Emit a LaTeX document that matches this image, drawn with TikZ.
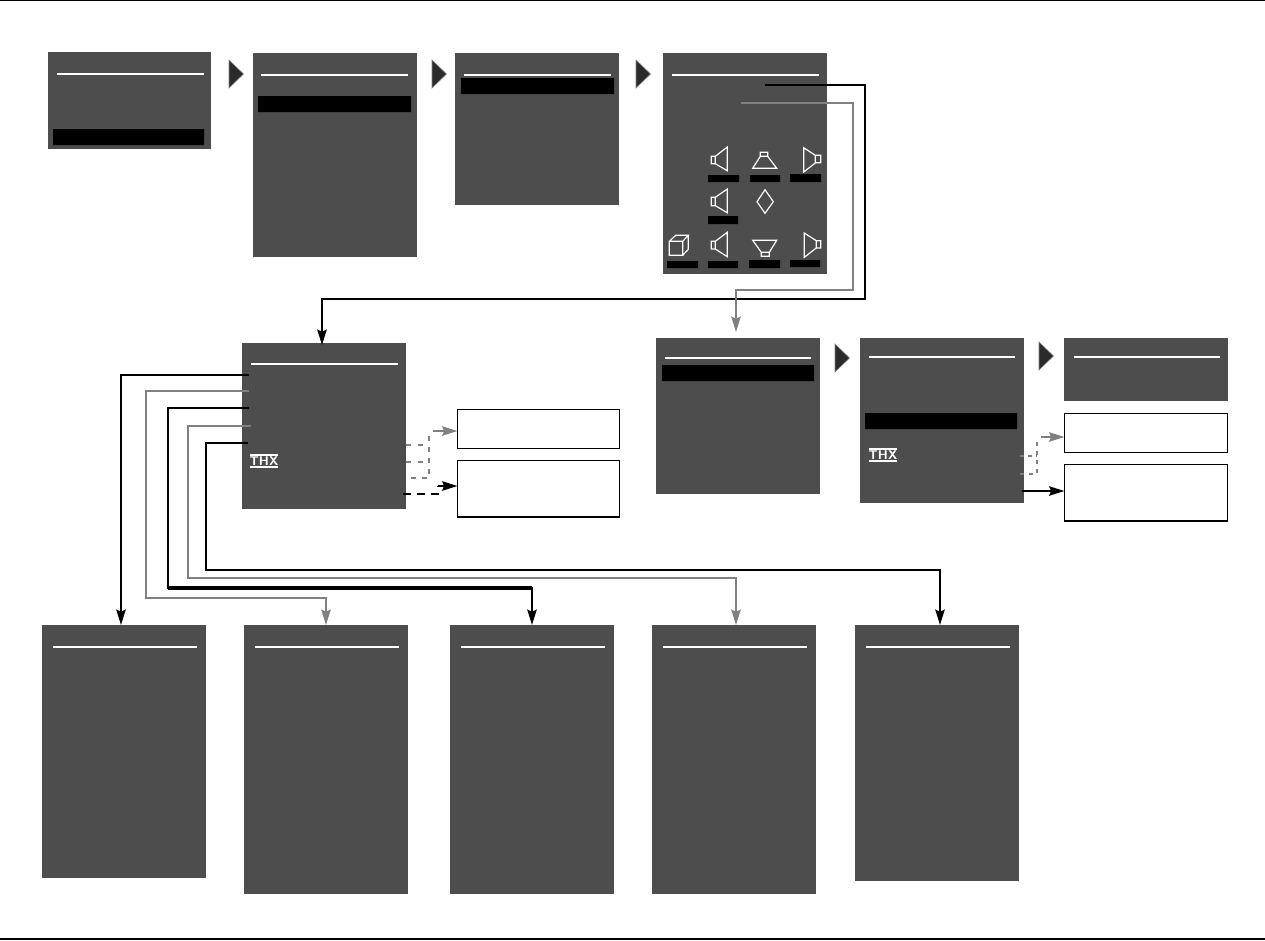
\documentclass[tikz,border=0pt]{standalone}
\usepackage{fontspec}
\setmainfont{Liberation Sans}
\usetikzlibrary{arrows.meta}
\definecolor{panelgray}{HTML}{4D4D4D}
\definecolor{wiregray}{HTML}{808080}
\definecolor{pointer}{HTML}{2B2B2B}
\tikzset{
 panel/.style={fill=panelgray,draw=none,inner sep=0pt,outer sep=0pt,anchor=north west},
 notebox/.style={fill=white,draw=black,line width=1.1pt,inner sep=0pt,outer sep=0pt,anchor=north west},
 titlerule/.style={draw=white,line width=1.5pt},
 selbar/.style={fill=black,draw=none},
 icon/.style={draw=white,line width=.9pt,line join=miter},
 wblack/.style={draw=black,line width=1.5pt},
 wgray/.style={draw=wiregray,line width=1.5pt},
 tipb/.style={-{Stealth[length=11.5pt,width=7pt,inset=1.5pt]}},
 nextmark/.style={fill=pointer,draw=pointer!60!white,line width=.4pt}
}
\newcommand{\panelbox}[5]{\node[panel,minimum width=#4*.75pt,minimum height=#5*.75pt] (#1) at (#2,#3) {};}
\newcommand{\notebx}[5]{\node[notebox,minimum width=#4*.75pt,minimum height=#5*.75pt] (#1) at (#2,#3) {};}
\newcommand{\nextarrow}[2]{\path[nextmark] (#1,#2) -- ++(14.5,14) -- ++(-14.5,14) -- cycle;}
\newcommand{\thxlogo}[3]{\node[inner sep=0pt,outer sep=0pt,minimum width=19.5pt,minimum height=9pt,fill=panelgray,text=white,font=\sffamily\bfseries\fontsize{9.5}{9.5}\selectfont] (#1) at (#2,#3) {THX};
 \draw[white,line width=.9pt] (#1.north west) -- (#1.north east) (#1.south west) -- (#1.south east);}
\begin{document}
\begin{tikzpicture}[x=.75pt,y=-.75pt]
\useasboundingbox (0,0) rectangle (1265,940);
\coordinate (tl) at (0,0.5); \coordinate (tr) at (1265,0.5);
\coordinate (bl) at (0,939); \coordinate (br) at (1265,939);
\draw[black,line width=.9pt] (tl) -- (tr) (bl) -- (br);
% panels
\panelbox{pa}{48}{52}{163}{97}
\panelbox{pb}{253}{53}{164}{204}
\panelbox{pc}{455}{53}{164}{152}
\panelbox{pd}{663}{53}{164}{221}
\panelbox{pe}{242}{343}{164}{166}
\panelbox{pf}{656}{338}{164}{156}
\panelbox{pg}{860}{338}{164}{165}
\panelbox{ph}{1064}{338}{164}{63}
\panelbox{q1}{42}{625}{164}{253}
\panelbox{q2}{244}{625}{164}{269}
\panelbox{q3}{450}{625}{164}{269}
\panelbox{q4}{652}{625}{164}{269}
\panelbox{q5}{855}{625}{164}{256}
\notebx{ni}{457.5}{409.5}{162}{39}
\notebx{nj}{457.5}{460.5}{162}{56.5}
\notebx{nk}{1064.5}{413.5}{163}{39}
\notebx{nl}{1064.5}{464.5}{163}{56.5}
% title rules
\draw[titlerule] (57,73.5)--(204,73.5) (261,75)--(408,75) (464,75)--(611,75) (672,75)--(819,75)
 (251,364)--(398,364) (665,358)--(811,358) (869,357)--(1015,357) (1074,357)--(1220,357)
 (53,647)--(197,647) (255,647)--(399,647) (461,647)--(605,647) (663,647)--(807,647) (866,647)--(1010,647);
% selection bars
\fill[selbar] (53,129) rectangle (204,145) (258,96) rectangle (411,112) (461,78) rectangle (614,94)
 (662,365) rectangle (814,381) (865,413) rectangle (1017,429);
% label bars
\fill[selbar] (708,175) rectangle (739,182) (750,175) rectangle (780,182) (790,174) rectangle (821,182)
 (708,216) rectangle (738,224) (667,261) rectangle (698,268) (708,261) rectangle (738,268)
 (749,260) rectangle (780,268) (790,260) rectangle (820,267);
% speaker icons
\draw[icon] (711.3,156.3) rectangle (715.3,163.7) (715.3,156.3)--(727.3,147)--(727.3,170.7)--(715.3,163.7);
\draw[icon] (760.3,152.3) rectangle (767.7,156.3) (760.3,156.3)--(752.7,168.3)--(776.7,168.3)--(767.7,156.3);
\draw[icon] (815.3,155.3) rectangle (820.7,162.7) (815.3,155.3)--(803.7,147.7)--(803.7,172)--(815.3,163);
\draw[icon] (711.3,197.3) rectangle (715.3,205.7) (715.3,197.3)--(727.3,189)--(727.3,212.7)--(715.3,205.7);
\draw[icon] (765,189.7)--(773.3,201.7)--(765,213.3)--(757,201.7)--cycle;
\draw[icon] (669.3,241.3) rectangle (682.7,255.3) (669.3,241.3)--(675.7,235.3)--(688.3,235.3)--(682.7,241.3) (688.3,235.3)--(688.3,249.3)--(682.7,255.3);
\draw[icon] (711.3,241.3) rectangle (715.3,249) (715.3,241.3)--(727.3,232.3)--(727.3,256.7)--(715.3,249);
\draw[icon] (752.7,240.3)--(776.7,240.3)--(769.3,252.3)--(761.3,252.3)--cycle (761.3,252.3) rectangle (769.3,256.3);
\draw[icon] (816.3,240.7) rectangle (820.7,248) (816.3,240.7)--(804.3,233)--(804.3,257.3)--(816.3,248);
% flow pointers
\nextarrow{229}{60}
\nextarrow{432}{60}
\nextarrow{636}{60}
\nextarrow{835}{344}
\nextarrow{1039}{342}
% logos
\thxlogo{thxe}{264}{461}
\thxlogo{thxg}{883}{455}
% free ends
\coordinate (d1) at (765,85); \coordinate (d2) at (741,103);
\coordinate (e1) at (249,375); \coordinate (e2) at (249,391); \coordinate (e3) at (249,408);
\coordinate (e4) at (251,426); \coordinate (e5) at (248,443);
\coordinate (e6) at (406,445); \coordinate (e7) at (406,462); \coordinate (e8) at (411,478); \coordinate (e9) at (403,494);
\coordinate (g1) at (1020,456); \coordinate (g2) at (1020,474); \coordinate (g3) at (1022,491);
\coordinate (pein) at ([yshift=-1.5pt]pe.north -| 322,0);
\coordinate (pfin) at ([yshift=4.5pt]pf.north -| 736,0);
% connectors
\draw[wblack,tipb] (d1) -- (865,85) -- (865,299) -- (322,299) -- (pein);
\draw[wgray,tipb] (d2) -- (853,103) -- (853,290) -- (736,290) -- (pfin);
\draw[wblack,tipb] (e1) -- (121,375) -- (121,0 |- q1.north);
\draw[wgray,tipb] (e2) -- (146,391) -- (146,598) -- (326,598) -- (326,0 |- q2.north);
\draw[wblack,tipb] (e3) -- (168,408) -- (168,588) [line width=1.5pt] -- (532,588) -- (532,0 |- q3.north);
\draw[black,line width=2.4pt] (168,588) -- (532,588);
\draw[wgray,tipb] (e4) -- (188,426) -- (188,578) -- (736,578) -- (736,0 |- q4.north);
\draw[wblack,tipb] (e5) -- (206,443) -- (206,570) -- (940,570) -- (940,0 |- q5.north);
\draw[wgray,dash pattern=on 3.75pt off 5.25pt] (e6) -- (429,445);
\draw[wgray,dash pattern=on 3.75pt off 5.25pt] (e7) -- (429,462);
\draw[wgray,dash pattern=on 3.75pt off 4.5pt] (e8) -- (429,478) -- (429,432);
\draw[wgray,tipb] (433,431) -- (ni.west |- 0,431);
\draw[wblack,dash pattern=on 6pt off 4.5pt] (e9) -- (438,494) -- (438,486);
\draw[wblack,tipb] (438,486) -- (nj.west |- 0,486);
\draw[wgray,line width=1.1pt,dash pattern=on 3pt off 3pt] (g1) -- (1037,456);
\draw[wgray,line width=1.1pt,dash pattern=on 3pt off 3.75pt] (g2) -- (1037,474) -- (1037,440);
\draw[wgray,tipb] (1041,437) -- (nk.west |- 0,437);
\draw[wblack,tipb] (g3) -- (nl.west |- 0,491);
\end{tikzpicture}
\end{document}
